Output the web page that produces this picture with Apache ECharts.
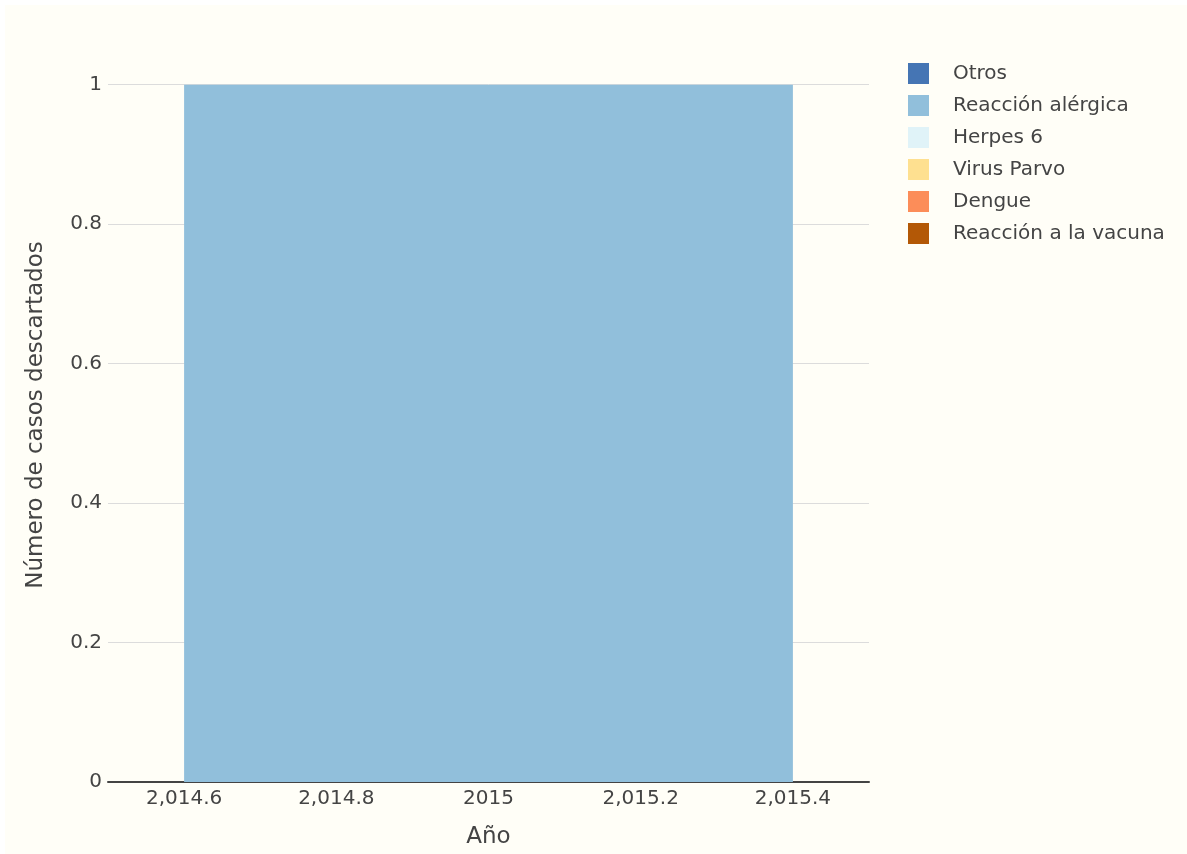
<!DOCTYPE html>
<html>
<head>
<meta charset="utf-8">
<script src="https://cdn.jsdelivr.net/npm/echarts@6/dist/echarts.min.js"></script>
<style>
html,body{margin:0;padding:0;background:#fff;}
#chart{position:absolute;left:5px;top:5px;width:1182px;height:849px;}
</style>
</head>
<body>
<div id="chart"></div>
<script>
/*----------data----------*/
var years=[2015];
var otros=[0];
var reaccionAlergica=[1];
var herpes6=[0];
var virusParvo=[0];
var dengue=[0];
var reaccionVacuna=[0];
var seriesNames=["Otros","Reacción alérgica","Herpes 6","Virus Parvo","Dengue","Reacción a la vacuna"];
var seriesValues=[otros,reaccionAlergica,herpes6,virusParvo,dengue,reaccionVacuna];
var seriesColors=["#4575b4","#91bfdb","#e0f3f8","#fee090","#fc8d59","#b35806"];
var xTicks=[2014.6,2014.8,2015,2015.2,2015.4];
var yTicks=[0,0.2,0.4,0.6,0.8,1];
var barWidth=0.8;	//in years, like plotly
/*----------chart----------*/
chart();
function xFormat(v){	//plotly style: 2,014.6 but 2015
	if(Math.abs(v-Math.round(v))<1e-9) return String(Math.round(v));
	var s=v.toFixed(1);
	return s.replace(/^(\d)(\d{3})/,"$1,$2");
}
function chart(){
	var myChart=echarts.init(document.getElementById("chart"));
	var base=years.map(function(){return 0;});	//running stack
	var series=seriesNames.map(function(name,i){
		var data=years.map(function(y,j){
			var lo=base[j];
			var hi=lo+seriesValues[i][j];
			base[j]=hi;
			return [y,lo,hi];
		});
		return {
			type:"custom",
			name:name,
			itemStyle:{color:seriesColors[i]},
			encode:{x:0,y:[1,2]},
			data:data,
			renderItem:function(params,api){
				var x=api.value(0),lo=api.value(1),hi=api.value(2);
				if(hi<=lo) return null;
				var p1=api.coord([x-barWidth/2,hi]);
				var p2=api.coord([x+barWidth/2,lo]);
				return {
					type:"rect",
					shape:{x:p1[0],y:p1[1],width:p2[0]-p1[0],height:p2[1]-p1[1]},
					style:{fill:api.visual("color")}
				};
			}
		};
	});
	var option={
		backgroundColor:"#fffef7",
		animation:false,
		textStyle:{fontFamily:"DejaVu Sans",color:"#444"},
		grid:{left:103,top:43,width:761,height:737,containLabel:false},
		legend:{
			orient:"vertical",
			left:898,
			top:53,
			itemWidth:21,
			itemHeight:21,
			itemGap:11,
			icon:"rect",
			data:seriesNames,
			textStyle:{fontSize:20,lineHeight:21,color:"#444",padding:[0,0,0,19],fontFamily:"DejaVu Sans"}
		},
		xAxis:{
			type:"value",
			min:2014.5,
			max:2015.5,
			name:"Año",
			nameLocation:"middle",
			nameGap:44,
			nameTextStyle:{fontSize:23,color:"#444"},
			axisLine:{show:true,lineStyle:{color:"#444",width:2}},
			axisTick:{show:false,customValues:xTicks},
			splitLine:{show:false},
			axisLabel:{customValues:xTicks,fontSize:20,color:"#444",margin:7,formatter:xFormat}
		},
		yAxis:{
			type:"value",
			min:0,
			max:1.0526,
			name:"Número de casos descartados",
			nameLocation:"middle",
			nameGap:60,
			nameTextStyle:{fontSize:23,color:"#444"},
			axisLine:{show:false},
			axisTick:{show:false,customValues:yTicks},
			splitLine:{show:true,lineStyle:{color:"#dcdcdc",width:1}},
			axisLabel:{customValues:yTicks,fontSize:20,color:"#444",margin:6,
				formatter:function(v){return String(Math.round(v*10)/10);}}
		},
		series:series
	};
	myChart.setOption(option);
}
</script>
</body>
</html>
